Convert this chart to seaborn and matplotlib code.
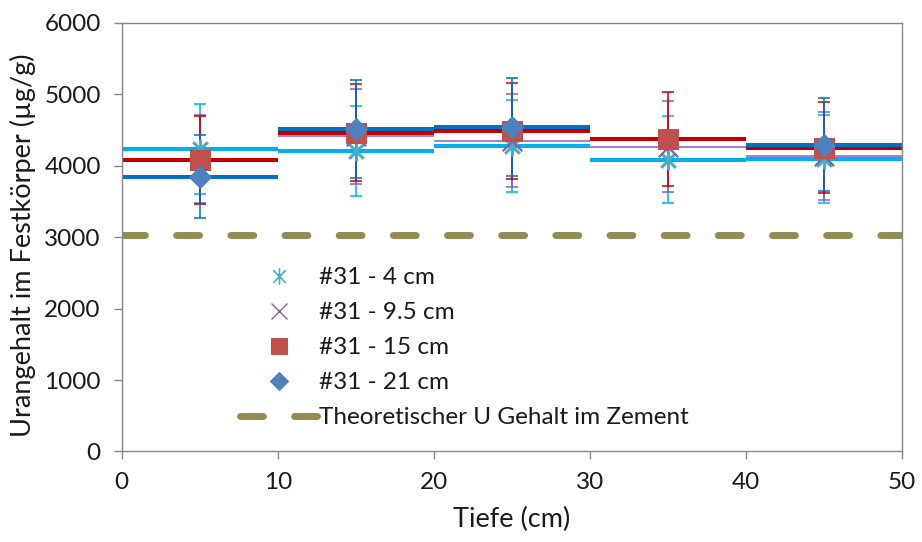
import numpy as np
import matplotlib
matplotlib.use("Agg")
import matplotlib.pyplot as plt
from matplotlib.path import Path
from matplotlib.lines import Line2D
import seaborn as sns

# ==============================================
# Data
# ==============================================
depth = [5, 15, 25, 35, 45]          # centre of each depth slice (cm)
half_width = [5, 5, 5, 5, 5]         # slice half width (cm)

u_4cm = [4230, 4210, 4280, 4085, 4095]
err_4cm = [630, 630, 645, 612, 620]

u_9_5cm = [4090, 4412, 4351, 4262, 4132]
err_9_5cm = [615, 662, 647, 637, 617]

u_15cm = [4085, 4464, 4486, 4370, 4248]
err_15cm = [615, 685, 675, 658, 637]

u_21cm = [3847, 4514, 4538, np.nan, 4296]
err_21cm = [585, 685, 685, np.nan, 647]

theory_u = 3030

labels = ["#31 - 4 cm", "#31 - 9.5 cm", "#31 - 15 cm", "#31 - 21 cm"]
theory_label = "Theoretischer U Gehalt im Zement"

# ==============================================
# Styling
# ==============================================
sns.set_theme(style="white")
plt.rcParams["font.family"] = ["Lato", "DejaVu Sans"]

line_colors = ["#00B0F0", "#8E5CC0", "#C00000", "#0070C0"]
marker_colors = ["#4BACC6", "#8064A2", "#C0504D", "#4F81BD"]
xbar_widths = [2.9, 1.1, 2.9, 2.9]
axis_grey = "#868686"
text_col = "#1a1a1a"
fs = 17.5

# asterisk marker like the one in Excel
asterisk = Path(
    [(0, -1), (0, 1), (-0.75, -0.75), (0.75, 0.75), (-0.75, 0.75), (0.75, -0.75)],
    [Path.MOVETO, Path.LINETO, Path.MOVETO, Path.LINETO, Path.MOVETO, Path.LINETO],
)
markers = [asterisk, "x", "s", "D"]
marker_sizes = [14, 14, 15, 11]
marker_edge = [2.2, 1.6, 0.8, 0.8]

series = [(u_4cm, err_4cm), (u_9_5cm, err_9_5cm), (u_15cm, err_15cm), (u_21cm, err_21cm)]

fig = plt.figure(figsize=(9.22, 5.42), dpi=100)
ax = fig.add_axes([0.132, 0.167, 0.846, 0.791])

# theoretical content line
ax.axhline(theory_u, color="#948A54", lw=5, ls=(0, (3.3, 4.5)),
           dash_capstyle="round", zorder=1)

# horizontal bars = depth slices
for (vals, errs), col, lw in zip(series, line_colors, xbar_widths):
    ax.errorbar(depth, vals, xerr=half_width, fmt="none", ecolor=col,
                elinewidth=lw, capsize=0, zorder=2)

# vertical error bars
for (vals, errs), col in zip(series, line_colors):
    ax.errorbar(depth, vals, yerr=errs, fmt="none", ecolor=col,
                elinewidth=1.1, capsize=4.3, capthick=1.1, zorder=3)

# markers
for i, (vals, errs) in enumerate(series):
    sns.scatterplot(x=depth, y=vals, marker=markers[i], s=marker_sizes[i] ** 2,
                    color=marker_colors[i], edgecolor=marker_colors[i],
                    linewidth=marker_edge[i], ax=ax, zorder=5 + i, legend=False)

ax.set_xlim(0, 50)
ax.set_ylim(0, 6000)
ax.set_xticks(range(0, 51, 10))
ax.set_yticks(range(0, 6001, 1000))
ax.tick_params(axis="both", which="major", direction="out", length=6,
               width=1, color=axis_grey, labelsize=fs, labelcolor=text_col,
               left=True, bottom=True)
ax.tick_params(axis="x", pad=9)
ax.tick_params(axis="y", pad=9)
for sp in ax.spines.values():
    sp.set_visible(True)
    sp.set_color(axis_grey)
    sp.set_linewidth(1)

ax.set_xlabel("Tiefe (cm)", fontsize=19.5, color=text_col)
ax.set_ylabel("Urangehalt im Festkörper (µg/g)", fontsize=19.5, color=text_col)
ax.xaxis.set_label_coords(0.5, -0.13)
ax.yaxis.set_label_coords(-0.11, 0.48)

# legend
handles = []
leg_sizes = [12, 12, 12, 9]
leg_edge = [1.2, 1.0, 0.8, 0.8]
for i in range(4):
    handles.append(Line2D([], [], ls="none", marker=markers[i], ms=leg_sizes[i],
                          color=marker_colors[i], mec=marker_colors[i],
                          mew=leg_edge[i]))
handles.append(Line2D([], [], color="#948A54", lw=5, ls=(0, (3.3, 4.5)),
                      dash_capstyle="round"))
ax.legend(handles, labels + [theory_label], loc="upper left",
          bbox_to_anchor=(240 / 922, 1 - 267 / 542), bbox_transform=fig.transFigure,
          frameon=False, fontsize=fs, handlelength=3.17, handletextpad=0.1,
          labelspacing=0.58, borderpad=0, borderaxespad=0, labelcolor=text_col)

fig.savefig("out.png", dpi=100)
